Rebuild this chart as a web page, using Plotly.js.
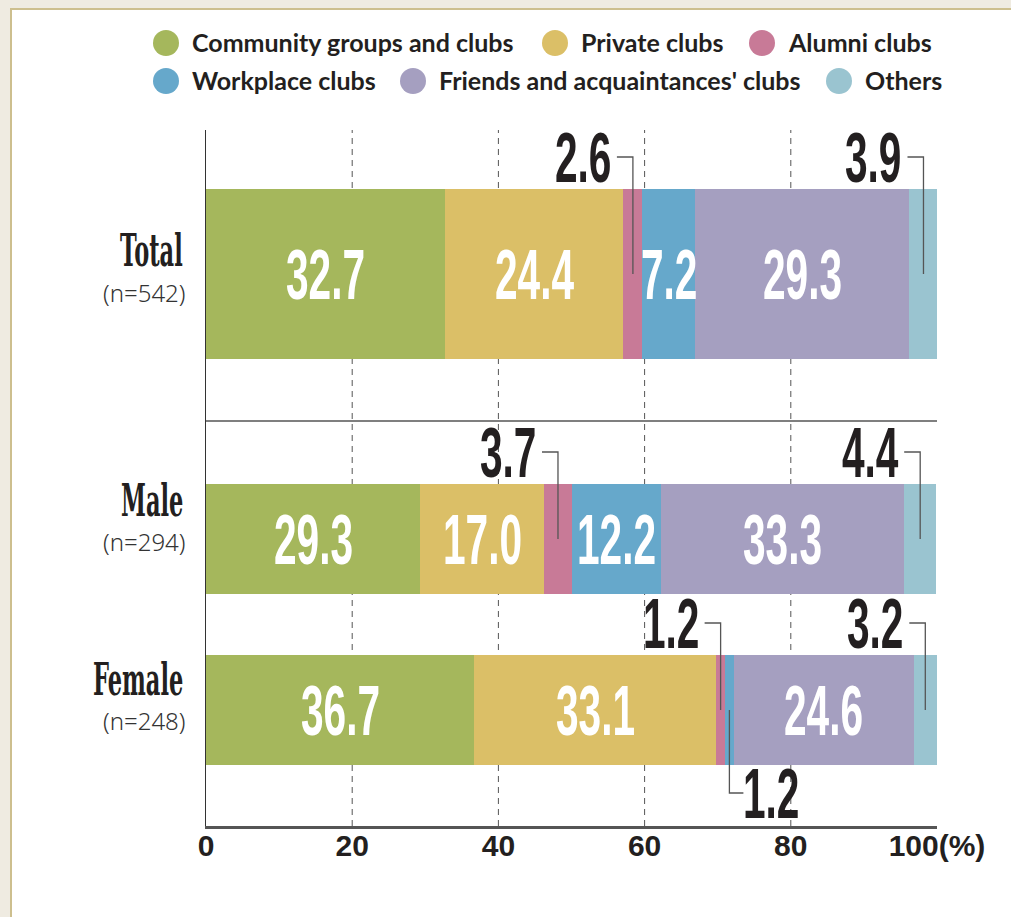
<!DOCTYPE html>
<html><head><meta charset="utf-8">
<script src="https://cdn.plot.ly/plotly-3.0.1.min.js"></script>
<style>
html,body{margin:0;padding:0;background:#efebe1;width:1011px;height:917px;overflow:hidden}
#panel{position:absolute;left:10px;top:8px;width:1001px;height:909px;background:#fff;border-left:2px solid #cdbf8e;border-top:2px solid #cdbf8e;box-sizing:border-box}
#chart{position:absolute;left:0;top:0;width:1011px;height:917px}
text.annotation-text[style*="Liberation Sans Narrow"]{transform-box:fill-box;transform-origin:center;transform:scaleX(0.58)}
text.annotation-text[style*="DejaVu Serif"]{transform-box:fill-box;transform-origin:right center;transform:scaleX(0.5)}
</style></head><body><div id="panel"></div><div id="chart"></div>
<script>
// ---- data ----
const categories = ['Total', 'Male', 'Female'];
const sampleSizes = [542, 294, 248];
const seriesNames = ['Community groups and clubs', 'Private clubs', 'Alumni clubs',
  'Workplace clubs', "Friends and acquaintances' clubs", 'Others'];
const community = [32.7, 29.3, 36.7];
const privateClubs = [24.4, 17.0, 33.1];
const alumni = [2.6, 3.7, 1.2];
const workplace = [7.2, 12.2, 1.2];
const friends = [29.3, 33.3, 24.6];
const others = [3.9, 4.4, 3.2];
const xTickVals = [0, 20, 40, 60, 80, 100];
const xTickText = ['0', '20', '40', '60', '80', '100(%)'];
const gridVals = [20, 40, 60, 80];

// ---- styling / layout ----
const seriesValues = [community, privateClubs, alumni, workplace, friends, others];
const colors = ['#a5b75c', '#dbbf67', '#c87a97', '#66a8cb', '#a59fc0', '#9ac4d0'];
const W = 1011, H = 917, L = 206, R = 937, T = 130, B = 826;
const pxPerX = (R - L) / 100;
const yv = py => B - py;               // y axis in pixel-like units
const px2paperX = px => (px - L) / (R - L);
const py2paperY = py => (B - py) / (B - T);
const rows = [
  {top: 189, bottom: 359, label: 250, n: 292},
  {top: 484, bottom: 594, label: 500, n: 541},
  {top: 655, bottom: 765, label: 679, n: 720}
];
const legendPos = [[166, 43], [555, 43], [762, 43], [166, 81], [413, 81], [839, 81]];
const numFont = {family: 'Liberation Sans Narrow, Arial Narrow, sans-serif', size: 70, weight: 700};
const dark = '#231f20';

const traces = seriesValues.map((vals, j) => ({
  type: 'bar', orientation: 'h', name: seriesNames[j],
  x: vals,
  y: rows.map(r => yv((r.top + r.bottom) / 2)),
  width: rows.map(r => r.bottom - r.top),
  marker: {color: colors[j], line: {width: 0}},
  hoverinfo: 'skip', showlegend: false
}));

const annotations = [];
const shapes = [];

// gridlines
gridVals.forEach(g => shapes.push({type: 'line', xref: 'x', yref: 'paper', x0: g, x1: g, y0: 0, y1: 1,
  layer: 'below', line: {color: '#555', width: 1, dash: '6px,5px'}}));
// separator between Total and gender rows
shapes.push({type: 'line', xref: 'x', yref: 'y', x0: 0, x1: 100, y0: yv(421), y1: yv(421),
  layer: 'below', line: {color: '#555', width: 1.5}});

categories.forEach((cat, i) => {
  const r = rows[i];
  const yc = yv((r.top + r.bottom) / 2);
  let cum = 0;
  let prevAbove = false, prevSmall = false;
  seriesValues.forEach((vals, j) => {
    const v = vals[i];
    const cx = cum + v / 2;
    cum += v;
    const txt = v.toFixed(1);
    if (v >= 5) {
      annotations.push({x: cx, y: yc, xref: 'x', yref: 'y', text: txt, showarrow: false,
        xanchor: 'center', yanchor: 'middle', font: Object.assign({color: '#fff'}, numFont)});
      prevSmall = false; prevAbove = false;
    } else {
      const above = !(prevSmall && prevAbove);
      if (above) {
        annotations.push({x: cx - 50 / pxPerX, y: yv(r.top - 32), xref: 'x', yref: 'y', text: txt,
          showarrow: false, xanchor: 'center', yanchor: 'middle', font: Object.assign({color: dark}, numFont)});
        shapes.push({type: 'path', xref: 'x', yref: 'y', line: {color: '#555', width: 1.3},
          path: `M ${cx - 16 / pxPerX},${yv(r.top - 32)} L ${cx},${yv(r.top - 32)} L ${cx},${yc}`});
      } else {
        annotations.push({x: cx + 42 / pxPerX, y: yv(r.bottom + 28), xref: 'x', yref: 'y', text: txt,
          showarrow: false, xanchor: 'center', yanchor: 'middle', font: Object.assign({color: dark}, numFont)});
        shapes.push({type: 'path', xref: 'x', yref: 'y', line: {color: '#555', width: 1.3},
          path: `M ${cx},${yc} L ${cx},${yv(r.bottom + 28)} L ${cx + 14 / pxPerX},${yv(r.bottom + 28)}`});
      }
      prevSmall = true; prevAbove = above;
    }
  });
  // category labels
  annotations.push({x: 0, y: yv(r.label), xref: 'x', yref: 'y', xshift: -21, text: cat, showarrow: false,
    xanchor: 'right', yanchor: 'middle', font: {family: 'DejaVu Serif, serif', size: 45, weight: 700, color: dark}});
  annotations.push({x: 0, y: yv(r.n), xref: 'x', yref: 'y', xshift: -19, text: '(n=' + sampleSizes[i] + ')',
    showarrow: false, xanchor: 'right', yanchor: 'middle',
    font: {family: 'Noto Sans, sans-serif', size: 24, weight: 300, color: '#333'}});
});

// legend (manual, two rows)
seriesNames.forEach((name, j) => {
  const [cx, cy] = legendPos[j];
  shapes.push({type: 'circle', xref: 'paper', yref: 'paper', xsizemode: 'pixel', ysizemode: 'pixel',
    xanchor: px2paperX(cx), yanchor: py2paperY(cy), x0: -13, x1: 13, y0: -13, y1: 13,
    fillcolor: colors[j], line: {width: 0}});
  annotations.push({x: px2paperX(cx + 24), y: py2paperY(cy - 1), xref: 'paper', yref: 'paper', text: name,
    showarrow: false, xanchor: 'left', yanchor: 'middle',
    font: {family: 'Lato, sans-serif', size: 25, weight: 700, color: dark}});
});

const layout = {
  width: W, height: H, autosize: false,
  margin: {l: L, r: W - R, t: T, b: H - B, pad: 0},
  paper_bgcolor: 'rgba(0,0,0,0)', plot_bgcolor: 'rgba(0,0,0,0)',
  barmode: 'stack', bargap: 0,
  xaxis: {range: [0, 100], tickvals: xTickVals, ticktext: xTickText, showgrid: false, zeroline: false,
    showline: true, linecolor: '#555', linewidth: 2.5, ticks: '', fixedrange: true, ticklabelstandoff: -9,
    tickfont: {family: 'Liberation Sans Narrow, Arial Narrow, sans-serif', size: 30, weight: 700, color: dark}},
  yaxis: {range: [0, B - T], showgrid: false, zeroline: false, showticklabels: false,
    showline: true, linecolor: '#333', linewidth: 1.5, ticks: '', fixedrange: true},
  shapes: shapes, annotations: annotations, showlegend: false
};

Plotly.newPlot('chart', traces, layout, {displayModeBar: false, staticPlot: true});
</script></body></html>
